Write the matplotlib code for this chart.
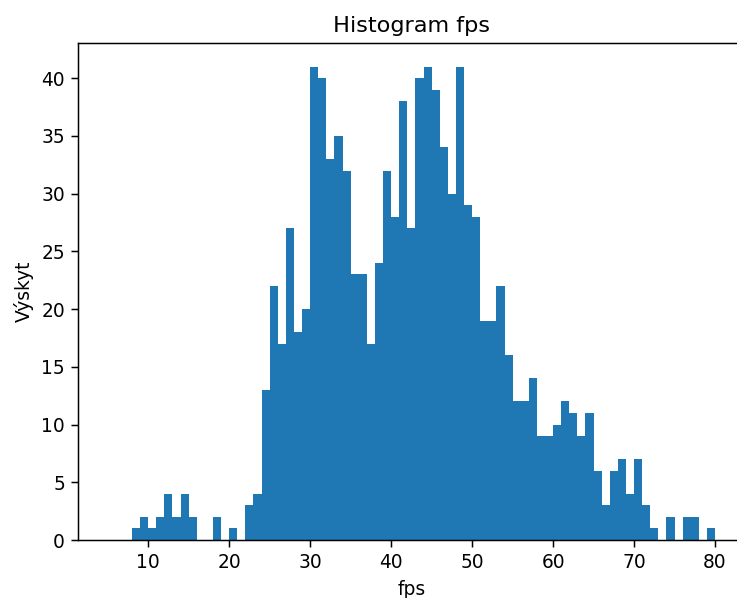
import numpy as np
import matplotlib

matplotlib.use("Agg")
import matplotlib.pyplot as plt

# fps histogram, 1-fps wide bins starting at 8
bin_edges = list(range(8, 81))
counts = [1, 2, 1, 2, 4, 2, 4, 2, 0, 0, 2, 0, 1, 0, 3, 4, 13, 22, 17, 27,
          18, 20, 41, 40, 33, 35, 32, 23, 23, 17, 24, 32, 28, 38, 27, 40, 41, 39, 34, 30,
          41, 29, 28, 19, 19, 22, 16, 12, 12, 14, 9, 9, 10, 12, 11, 9, 11, 6, 3, 6,
          7, 4, 7, 3, 1, 0, 2, 0, 2, 2, 0, 1]

S = 1.345  # scale from default 100-dpi sizes
plt.rcParams.update({
    "font.size": 10 * S,
    "axes.linewidth": 0.8 * S,
    "xtick.major.width": 0.8 * S,
    "ytick.major.width": 0.8 * S,
    "xtick.major.size": 3.5 * S,
    "ytick.major.size": 3.5 * S,
    "xtick.major.pad": 3.5 * S,
    "ytick.major.pad": 3.5 * S,
})

fig = plt.figure(figsize=(7.37, 5.98), dpi=100)
ax = fig.add_axes([78 / 737, 58 / 598, 667 / 737, 497 / 598])

ax.hist(bin_edges[:-1], bins=bin_edges, weights=counts, color="#1f77b4")
ax.set_xlim(1.33, 83.7)
ax.set_title("Histogram fps", fontsize=12 * S, pad=6 * S)
ax.set_xlabel("fps", labelpad=4 * S)
ax.set_ylabel("Výskyt", labelpad=4 * S)

fig.savefig("out.png", dpi=100)
